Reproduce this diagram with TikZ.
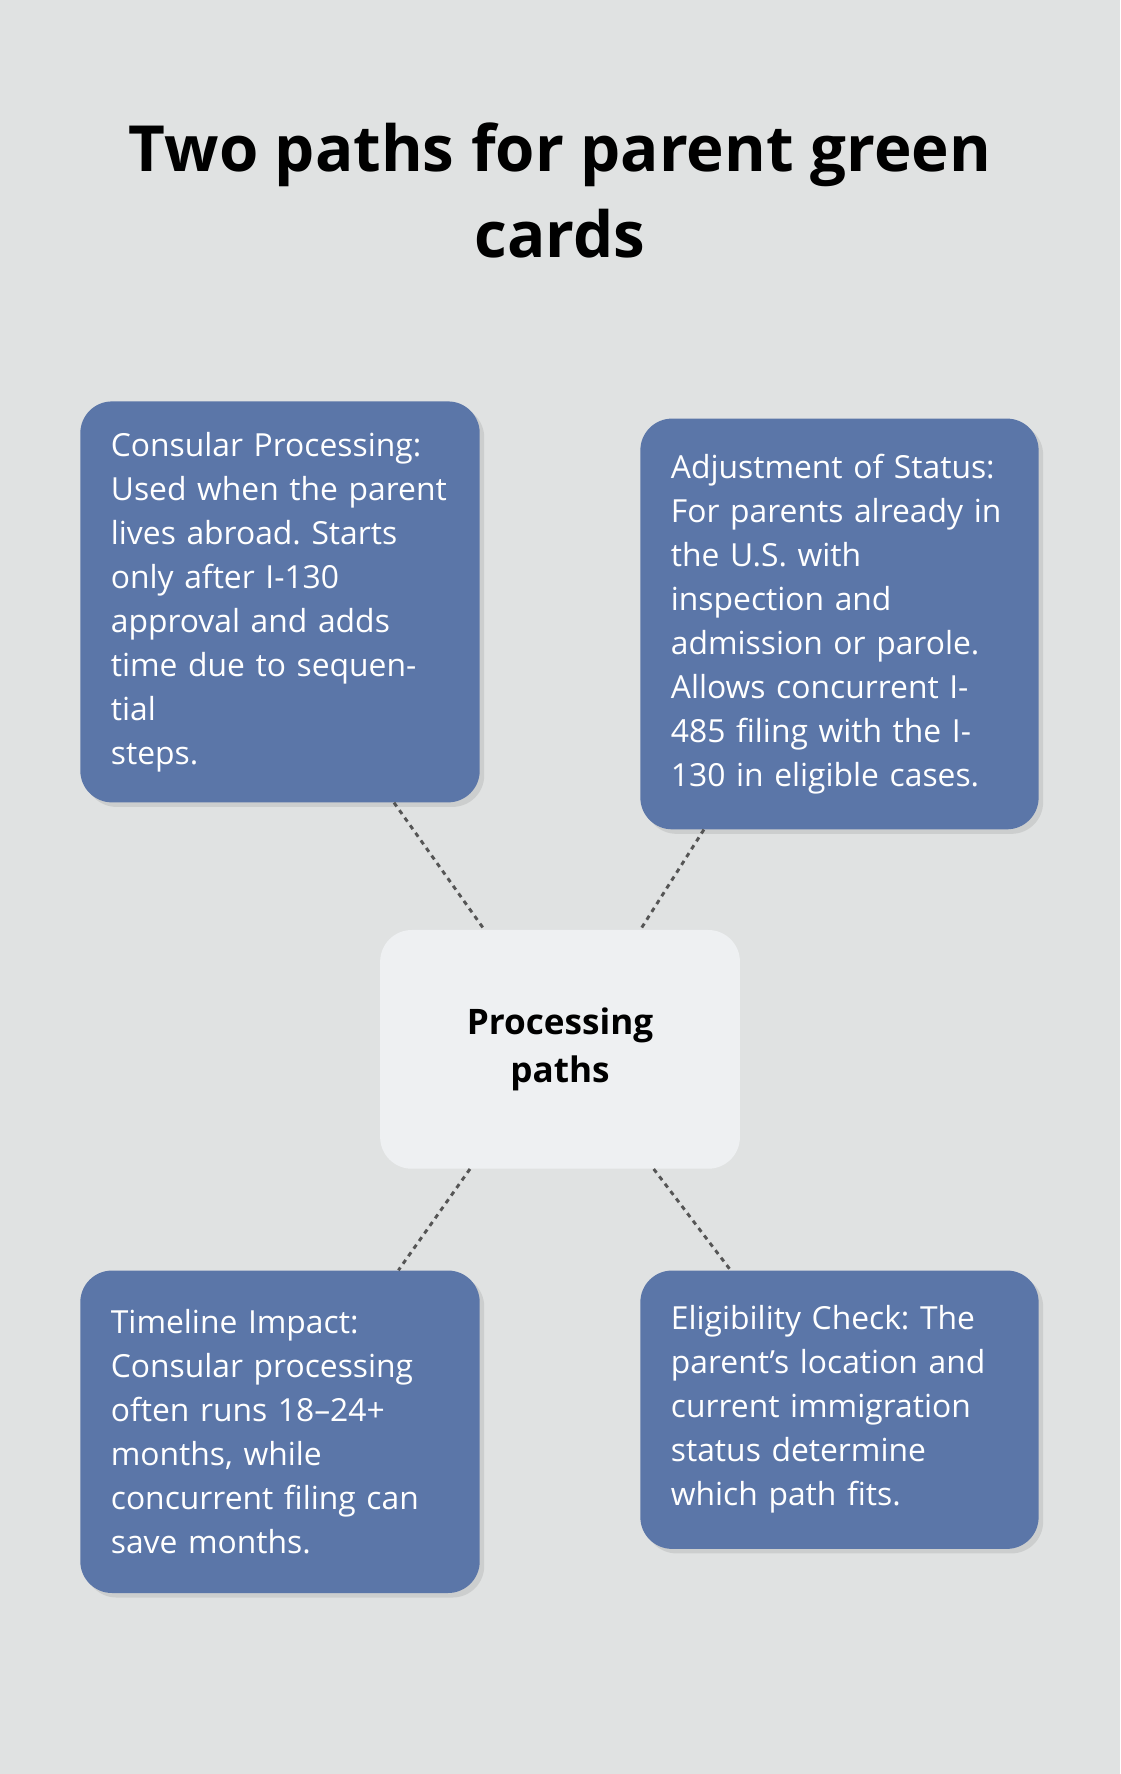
\documentclass[tikz,border=0pt]{standalone}
\usepackage{fontspec}
\setmainfont{Open Sans}
\frenchspacing
\usetikzlibrary{positioning,calc,shadows}
\definecolor{bgcol}{HTML}{E0E2E2}
\definecolor{boxcol}{HTML}{5B76A8}
\definecolor{hubcol}{HTML}{EEF0F2}
\definecolor{linkcol}{HTML}{555555}
\tikzset{
  info/.style={fill=boxcol, text=white, rounded corners=0.84cm, inner sep=0.81cm,
    align=left, font=\fontsize{24}{33.2}\selectfont, drop shadow={opacity=0.2, shadow xshift=0.12cm, shadow yshift=-0.12cm}},
  hub/.style={fill=hubcol, rounded corners=0.84cm, align=center,
    font=\bfseries\fontsize{26.5}{36}\selectfont, minimum width=9.54cm, minimum height=6.33cm},
  link/.style={draw=linkcol, line width=2.2pt, dash pattern=on 3.5pt off 3.5pt}
}
\begin{document}
\begin{tikzpicture}[x=0.03cm, y=-0.03cm]
  \fill[bgcol] (0,0) rectangle (990,1568);
  \useasboundingbox (0,0) rectangle (990,1568);

  \node[font=\bfseries\fontsize{48}{65}\selectfont, align=center] (title) at (495,168)
    {Two paths for parent green\\cards};

  \node[hub] (paths) at (495,927.5) {Processing\\paths};

  \node[info, minimum width=10.59cm, minimum height=9.72cm, text width=8.97cm] (consular) at (247.5,532)
    {Consular Processing:\\Used when the parent\\lives abroad. Starts\\only after I-130\\approval and adds\\time due to sequential\\steps.};
  \node[info, minimum width=10.56cm, minimum height=10.89cm, text width=8.94cm] (adjust) at (742,551.5)
    {Adjustment of Status:\\For parents already in\\the U.S. with\\inspection and\\admission or parole.\\Allows concurrent I-\\485 filing with the I-\\130 in eligible cases.};
  \node[info, minimum width=10.59cm, minimum height=8.55cm, text width=8.97cm] (timeline) at (247.5,1265.5)
    {Timeline Impact:\\Consular processing\\often runs 18–24+\\months, while\\concurrent filing can\\save months.};
  \node[info, minimum width=10.56cm, minimum height=7.38cm, text width=8.94cm] (eligible) at (742,1246)
    {Eligibility Check: The\\parent’s location and\\current immigration\\status determine\\which path fits.};

  % dotted links to the hub
  \draw[link] ($(consular.south west)!0.785!(consular.south east)$) -- ($(paths.north west)!0.29!(paths.north east)$);
  \draw[link] ($(adjust.south west)!0.16!(adjust.south east)$) -- ($(paths.north west)!0.723!(paths.north east)$);
  \draw[link] ($(paths.south west)!0.25!(paths.south east)$) -- ($(timeline.north west)!0.796!(timeline.north east)$);
  \draw[link] ($(paths.south west)!0.76!(paths.south east)$) -- ($(eligible.north west)!0.227!(eligible.north east)$);
\end{tikzpicture}
\end{document}
